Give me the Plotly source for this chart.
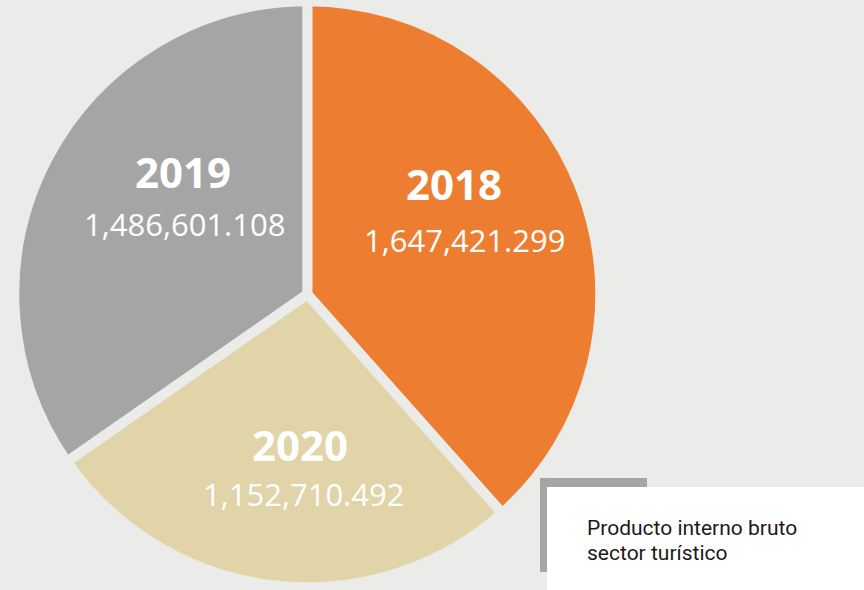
import plotly.graph_objects as go

# ---- data ----
years = ["2018", "2020", "2019"]
values = [1647421.299, 1152710.492, 1486601.108]
value_labels = ["1,647,421.299", "1,152,710.492", "1,486,601.108"]
colors = ["#ED7D31", "#E0D4A8", "#A5A5A5"]
legend_lines = ["Producto interno bruto", "sector turístico"]

W, H = 864, 590
BG = "#EBEBE9"

def px(x):
    return x / W

def py(y):
    return 1 - y / H

# pie geometry (pixels)
cx, cy, R = 307.3, 294.2, 293

fig = go.Figure(go.Pie(
    labels=years,
    values=values,
    sort=False,
    direction="clockwise",
    rotation=0,
    marker=dict(colors=colors, line=dict(color=BG, width=10)),
    textinfo="none",
    hoverinfo="label+value",
    showlegend=False,
    domain=dict(x=[px(cx - R), px(cx + R)], y=[py(cy + R), py(cy - R)]),
))

# label positions (pixel centers): year, value
year_pos = [(454, 183), (300, 444), (182.5, 171)]
val_pos = [(464, 239.5), (303, 494), (184, 224)]

annotations = []
for yr, vl, (yx, yy), (vx, vy) in zip(years, value_labels, year_pos, val_pos):
    annotations.append(dict(
        x=px(yx), y=py(yy), xref="paper", yref="paper",
        text=f"<b>{yr}</b>", showarrow=False, xanchor="center", yanchor="middle",
        font=dict(family="Open Sans", size=42, color="white"),
    ))
    annotations.append(dict(
        x=px(vx), y=py(vy), xref="paper", yref="paper",
        text=vl, showarrow=False, xanchor="center", yanchor="middle",
        font=dict(family="Open Sans", size=31, color="white"),
    ))

for line, ly in zip(legend_lines, [527.5, 552.5]):
    annotations.append(dict(
        x=px(585), y=py(ly), xref="paper", yref="paper",
        text=line, showarrow=False, xanchor="left", yanchor="middle",
        align="left",
        font=dict(family="Roboto", size=21, color="#1A1A1A"),
    ))

shapes = [
    dict(type="rect", xref="paper", yref="paper",
         x0=px(540), x1=px(647), y0=py(572), y1=py(478),
         fillcolor="#A5A5A5", line=dict(width=0), layer="above"),
    dict(type="rect", xref="paper", yref="paper",
         x0=px(547), x1=px(870), y0=py(596), y1=py(487),
         fillcolor="white", line=dict(width=0), layer="above"),
]

fig.update_layout(
    width=W, height=H,
    margin=dict(l=0, r=0, t=0, b=0),
    paper_bgcolor=BG, plot_bgcolor=BG,
    annotations=annotations,
    shapes=shapes,
)

fig.write_html(
    "out.html",
    config={"displayModeBar": False},
    post_script="document.body.style.margin='0';document.body.style.overflow='hidden';",
)
